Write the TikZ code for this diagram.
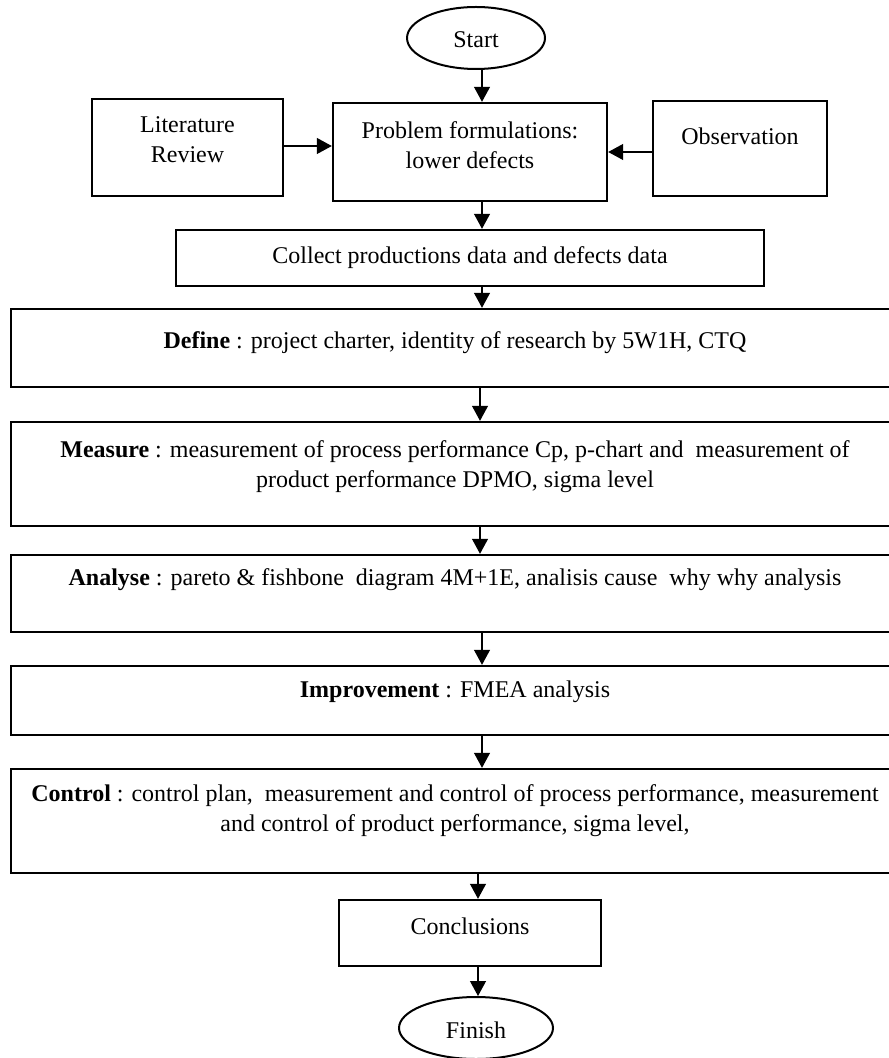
\documentclass[tikz,border=0pt]{standalone}
\usepackage{fontspec}
\setmainfont{Liberation Serif}
\usetikzlibrary{arrows.meta,shapes.geometric}
\begin{document}
\begin{tikzpicture}[x=0.5pt,y=-0.5pt,
  box/.style={draw,line width=1.2pt,rectangle,inner sep=0pt},
  oval/.style={draw,line width=1pt,ellipse,inner sep=0pt},
  txt/.style={align=center,inner sep=0pt,font=\fontsize{12}{15}\selectfont},
  arr/.style={-{Triangle[length=7.5pt,width=8pt]},line width=0.6pt}]
\useasboundingbox (0,0) rectangle (888,1058);
% shapes
\node[oval,minimum width=69pt,minimum height=31pt] (start) at (476,38) {};
\node[txt] (startt) at (476,40) {Start};
\node[box,minimum width=95.5pt,minimum height=48.5pt] (lit) at (187.5,147.5) {};
\node[txt] (litt) at (187.5,140) {Literature\\Review};
\node[box,minimum width=137pt,minimum height=49pt] (prob) at (470,152) {};
\node[txt] (probt) at (470,145) {Problem formulations:\\lower defects};
\node[box,minimum width=87pt,minimum height=47.5pt] (obs) at (740,148.5) {};
\node[txt] (obst) at (740,136) {Observation};
\node[box,minimum width=294pt,minimum height=28pt] (coll) at (470,258) {};
\node[txt] (collt) at (470,258) {Collect productions data and defects data};
\node[box,minimum width=444pt,minimum height=39pt] (def) at (455,348) {};
\node[txt] (deft) at (455,343) {\textbf{Define} : project charter, identity of research by 5W1H, CTQ};
\node[box,minimum width=444pt,minimum height=52pt] (meas) at (455,474) {};
\node[txt] (meast) at (455,467) {\textbf{Measure} : measurement of process performance Cp, p-chart and~ measurement of\\product performance DPMO, sigma level};
\node[box,minimum width=444pt,minimum height=38.5pt] (anal) at (455,593.5) {};
\node[txt] (analt) at (455,580) {\textbf{Analyse} : pareto \& fishbone~ diagram 4M+1E, analisis cause~ why why analysis};
\node[box,minimum width=444pt,minimum height=34.5pt] (impr) at (455,700.5) {};
\node[txt] (imprt) at (455,692) {\textbf{Improvement} : FMEA analysis};
\node[box,minimum width=444pt,minimum height=52pt] (ctrl) at (455,821) {};
\node[txt] (ctrlt) at (455,811) {\textbf{Control} : control plan,~ measurement and control of process performance, measurement\\and control of product performance, sigma level,};
\node[box,minimum width=131pt,minimum height=33pt] (concl) at (470,933) {};
\node[txt] (conclt) at (470,926) {Conclusions};
\node[oval,minimum width=77pt,minimum height=31pt] (fin) at (476,1028) {};
\node[txt] (fint) at (476,1030) {Finish};
% arrow guides
\coordinate (ax) at (482,0);
\coordinate (bx) at (480,0);
\coordinate (cx) at (478,0);
\coordinate (ly) at (0,146);
\coordinate (oy) at (0,152);
% connectors
\draw[arr] (start.south -| ax) -- (prob.north -| ax);
\draw[arr] (lit.east |- ly) -- (prob.west |- ly);
\draw[arr] (obs.west |- oy) -- (prob.east |- oy);
\draw[arr] (prob.south -| ax) -- (coll.north -| ax);
\draw[arr] (coll.south -| ax) -- (def.north -| ax);
\draw[arr] (def.south -| bx) -- (meas.north -| bx);
\draw[arr] (meas.south -| bx) -- (anal.north -| bx);
\draw[arr] (anal.south -| ax) -- (impr.north -| ax);
\draw[arr] (impr.south -| ax) -- (ctrl.north -| ax);
\draw[arr] (ctrl.south -| cx) -- (concl.north -| cx);
\draw[arr] (concl.south -| cx) -- (fin.north -| cx);
\end{tikzpicture}
\end{document}
